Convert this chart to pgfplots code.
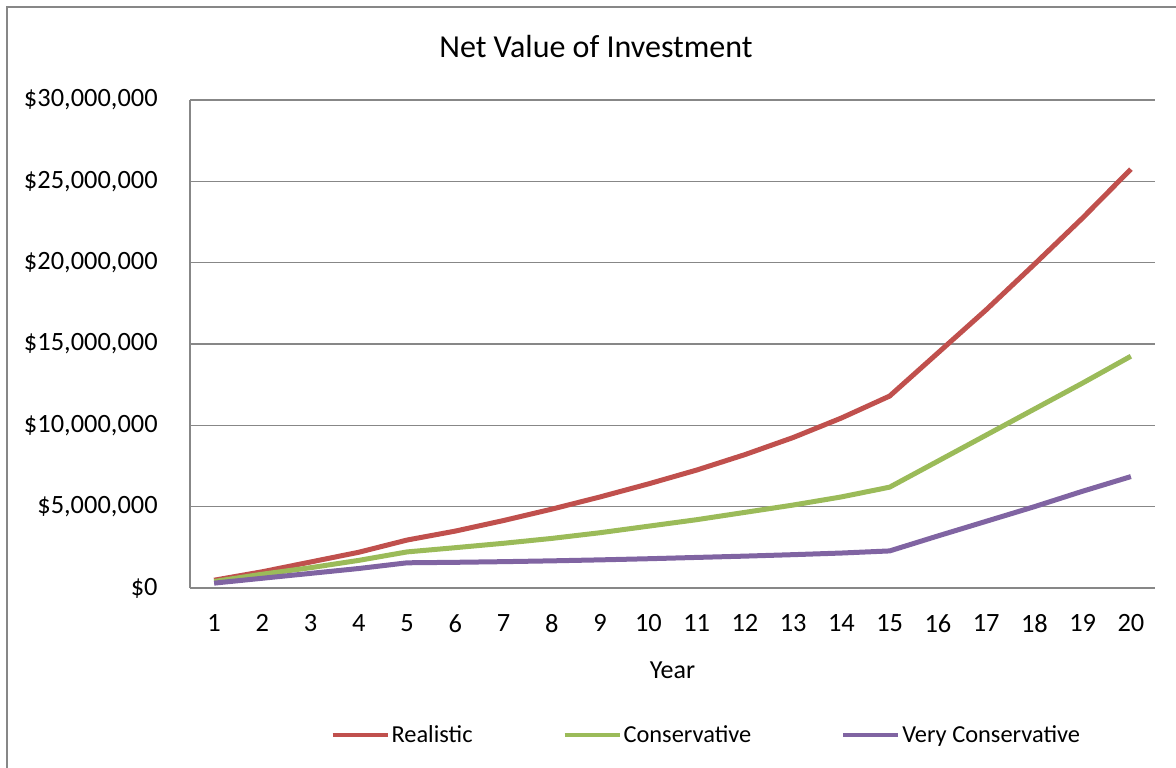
\documentclass[border=0pt]{standalone}
\usepackage{fontspec}
\setmainfont{Carlito}
\usepackage{pgfplots}
\pgfplotsset{compat=1.18}
\usepackage{pgfplotstable}

\definecolor{realred}{HTML}{C0504D}
\definecolor{consgreen}{HTML}{9BBB59}
\definecolor{verypurple}{HTML}{8064A2}
\definecolor{gridgray}{HTML}{878787}

% values in millions of dollars
\pgfplotstableread{
year realistic conservative veryconservative
1  0.48  0.40  0.30
2  1.00  0.85  0.60
3  1.60  1.25  0.90
4  2.20  1.70  1.20
5  2.95  2.22  1.55
6  3.50  2.48  1.58
7  4.15  2.75  1.62
8  4.85  3.05  1.67
9  5.60  3.40  1.73
10 6.40  3.80  1.80
11 7.25  4.20  1.88
12 8.20  4.65  1.96
13 9.25  5.10  2.05
14 10.45 5.60  2.15
15 11.80 6.20  2.28
16 14.45 7.80  3.20
17 17.10 9.40  4.10
18 19.90 11.00 5.00
19 22.75 12.60 5.95
20 25.75 14.25 6.85
}\datatable

\begin{document}
\begin{tikzpicture}
\path[use as bounding box] (0,0) rectangle (588pt,-383.5pt);
\begin{scope}
  \clip (0,0) rectangle (588pt,-383.5pt);
  \draw[gridgray, line width=1pt] (3.5pt,-3.5pt) rectangle (600pt,-400pt);
\end{scope}
\begin{axis}[
    at={(95pt,-50pt)}, anchor=north west,
    scale only axis,
    width=482.5pt, height=244pt,
    xmin=0.5, xmax=20.5,
    ymin=0, ymax=30,
    xtick={1,...,20},
    ytick={0,5,10,15,20,25,30},
    yticklabels={\$0,{\$5,000,000},{\$10,000,000},{\$15,000,000},{\$20,000,000},{\$25,000,000},{\$30,000,000}},
    major tick length=0pt,
    axis x line*=bottom, axis y line*=left,
    axis line style={draw=gridgray, line width=0.9pt, -},
    ymajorgrids,
    grid style={draw=gridgray, line width=0.8pt},
    tick label style={font=\fontsize{13.2pt}{15pt}\selectfont, inner sep=0pt},
    /pgf/number format/assume math mode=true,
    xticklabel shift=13pt,
    yticklabel shift=16pt,
    xlabel={Year},
    xlabel style={font=\fontsize{13pt}{15pt}\selectfont, at={(axis description cs:0.5,-0.168)}, anchor=center},
    title={Net Value of Investment},
    title style={font=\fontsize{16pt}{19pt}\selectfont, at={(axis description cs:0.4207,1.086)}, anchor=center, yshift=0pt},
    legend style={at={(axis description cs:0.139,-0.302)}, anchor=west, draw=none,
        font=\fontsize{12.2pt}{14pt}\selectfont, legend columns=3,
        /tikz/every even column/.append style={column sep=44pt},
        nodes={inner sep=1pt}},
    legend image code/.code={\draw[#1, line width=2pt] (0pt,0pt) -- (27.5pt,0pt);},
    legend cell align=left,
]
\addplot[realred, line width=2.5pt, line join=round] table[x=year, y=realistic] {\datatable};
\addplot[consgreen, line width=2.5pt, line join=round] table[x=year, y=conservative] {\datatable};
\addplot[verypurple, line width=2.5pt, line join=round] table[x=year, y=veryconservative] {\datatable};
\legend{Realistic, Conservative, Very Conservative}
\end{axis}
\end{tikzpicture}
\end{document}
